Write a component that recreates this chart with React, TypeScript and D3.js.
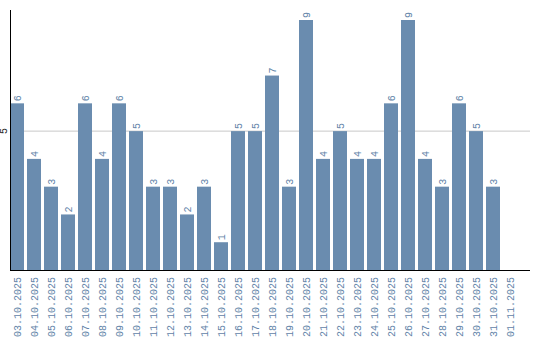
import React from "react";
import * as d3 from "d3";

const dates = [
  "03.10.2025", "04.10.2025", "05.10.2025", "06.10.2025", "07.10.2025",
  "08.10.2025", "09.10.2025", "10.10.2025", "11.10.2025", "12.10.2025",
  "13.10.2025", "14.10.2025", "15.10.2025", "16.10.2025", "17.10.2025",
  "18.10.2025", "19.10.2025", "20.10.2025", "21.10.2025", "22.10.2025",
  "23.10.2025", "24.10.2025", "25.10.2025", "26.10.2025", "27.10.2025",
  "28.10.2025", "29.10.2025", "30.10.2025", "31.10.2025", "01.11.2025",
];
const values = [
  6, 4, 3, 2, 6, 4, 6, 5, 3, 3, 2, 3, 1, 5, 5, 7, 3, 9, 4, 5, 4, 4, 6, 9, 4, 3, 6, 5, 3, 0,
];
const yTicks = [5];

const W = 540;
const H = 340;
const left = 10;
const top = 10;
const bottom = 270;
const right = 530;
const barColor = "#6a8caf";
const textColor = "#6283a8";
const font = "'Liberation Mono', 'DejaVu Sans Mono', monospace";

export default function App() {
  const x = d3
    .scaleBand<string>()
    .domain(dates)
    .range([left, left + 17 * dates.length - 3])
    .paddingInner(3 / 17)
    .paddingOuter(0);
  const y = d3.scaleLinear().domain([0, 9.36]).range([bottom, top]);

  return (
    <svg
      width={W}
      height={H}
      style={{ position: "absolute", left: 0, top: 0, background: "#fff" }}
    >
      {yTicks.map((t) => (
        <g key={t}>
          <line x1={left} x2={right} y1={y(t)} y2={y(t)} stroke="#c8c8c8" strokeWidth={1} />
          <text
            transform={`translate(${left - 3},${y(t)}) rotate(-90)`}
            textAnchor="middle"
            fontFamily={font}
            fontSize={10}
            fill="#222"
          >
            {t}
          </text>
        </g>
      ))}
      {dates.map((d, i) => {
        const v = values[i];
        const bx = x(d)!;
        const bw = x.bandwidth();
        const cx = bx + bw / 2;
        return (
          <g key={d}>
            {v > 0 && (
              <rect x={bx} y={y(v)} width={bw} height={bottom - y(v)} fill={barColor} />
            )}
            {v > 0 && (
              <text
                transform={`translate(${cx},${y(v) - 2}) rotate(-90)`}
                textAnchor="start"
                dy="0.35em"
                fontFamily={font}
                fontSize={10}
                fill={textColor}
              >
                {v}
              </text>
            )}
            <text
              transform={`translate(${cx},${bottom + 7}) rotate(-90)`}
              textAnchor="end"
              dy="0.35em"
              fontFamily={font}
              fontSize={10}
              fill={textColor}
            >
              {d}
            </text>
          </g>
        );
      })}
      <line x1={left} x2={right} y1={bottom + 0.5} y2={bottom + 0.5} stroke="#000" strokeWidth={1} />
      <line x1={left + 0.5} x2={left + 0.5} y1={top} y2={bottom} stroke="#000" strokeWidth={1} />
    </svg>
  );
}
